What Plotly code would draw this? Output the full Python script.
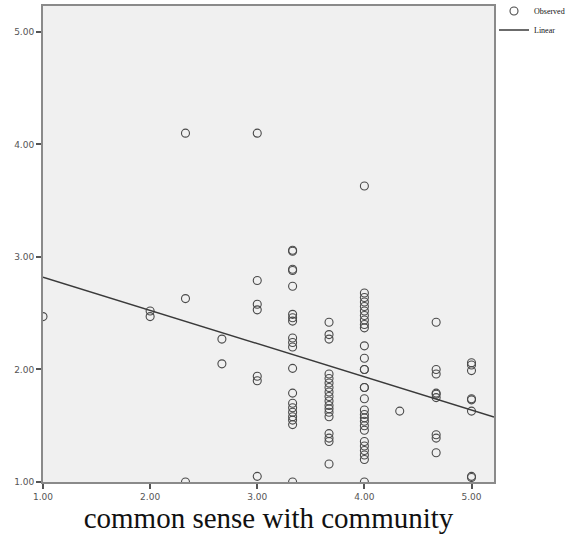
import plotly.graph_objects as go

# Observed values grouped by x level (common sense with community)
x_levels = [1.00, 2.00, 2.33, 2.67, 3.00, 3.33, 3.67, 4.00, 4.33, 4.67, 5.00]
y_groups = [
    [2.47],
    [2.52, 2.47],
    [4.10, 2.63, 1.00],
    [2.27, 2.05],
    [4.10, 2.79, 2.58, 2.53, 1.94, 1.90, 1.05],
    [3.06, 3.05, 2.89, 2.88, 2.74, 2.49, 2.46, 2.43, 2.28, 2.24, 2.20, 2.01, 1.79,
     1.70, 1.66, 1.62, 1.58, 1.55, 1.51, 1.00],
    [2.42, 2.31, 2.27, 1.96, 1.92, 1.88, 1.84, 1.80, 1.76, 1.72, 1.68, 1.65, 1.62,
     1.58, 1.43, 1.39, 1.36, 1.16],
    [3.63, 2.68, 2.64, 2.60, 2.56, 2.52, 2.48, 2.44, 2.40, 2.37, 2.21, 2.10, 2.00,
     2.00, 1.84, 1.84, 1.74, 1.64, 1.60, 1.57, 1.54, 1.50, 1.46, 1.36, 1.32, 1.28,
     1.24, 1.20, 1.00],
    [1.63],
    [2.42, 2.00, 1.96, 1.79, 1.78, 1.75, 1.42, 1.39, 1.26],
    [2.06, 2.04, 1.99, 1.74, 1.73, 1.63, 1.05, 1.04],
]

# Linear fit
fit_intercept = 3.115
fit_slope = -0.295
fit_x = [1.00, 5.21]

tick_vals = [1, 2, 3, 4, 5]

obs_x = []
obs_y = []
for xv, ys in zip(x_levels, y_groups):
    for yv in ys:
        obs_x.append(xv)
        obs_y.append(yv)

fit_y = [fit_intercept + fit_slope * xv for xv in fit_x]

fig = go.Figure()
fig.add_trace(go.Scatter(
    x=obs_x, y=obs_y, mode="markers", name="Observed",
    marker=dict(symbol="circle-open", size=8, color="#4a4a4a",
                line=dict(width=1.1, color="#4a4a4a")),
))
fig.add_trace(go.Scatter(
    x=fit_x, y=fit_y, mode="lines", name="Linear",
    line=dict(color="#3a3a3a", width=1.5),
))

axis_common = dict(
    showgrid=False, zeroline=False, showline=True, mirror=True,
    linecolor="#8a8a8a", linewidth=2, ticks="outside", ticklen=5,
    tickcolor="#555555", tickwidth=1.5, tickvals=tick_vals,
    tickformat=".2f",
    tickfont=dict(family="DejaVu Sans", size=9, color="#555555"),
)

fig.update_layout(
    width=576, height=543,
    margin=dict(l=43, r=82, t=6, b=61, autoexpand=False),
    paper_bgcolor="white", plot_bgcolor="#f0f0f0",
    xaxis=dict(range=[1.0, 5.21], **axis_common,
               title=dict(text="common sense with community",
                          font=dict(family="Liberation Serif", size=29, color="#111111"),
                          standoff=4)),
    yaxis=dict(range=[1.0, 5.23], **axis_common),
    legend=dict(x=1.0, y=1.02, xanchor="left", yanchor="top",
                font=dict(family="Liberation Serif", size=8, color="#111111"),
                bgcolor="rgba(0,0,0,0)", tracegroupgap=0, itemwidth=30),
    showlegend=True,
)

fig.write_html("out.html", config={"displayModeBar": False},
               post_script="document.body.style.margin='0px';")
